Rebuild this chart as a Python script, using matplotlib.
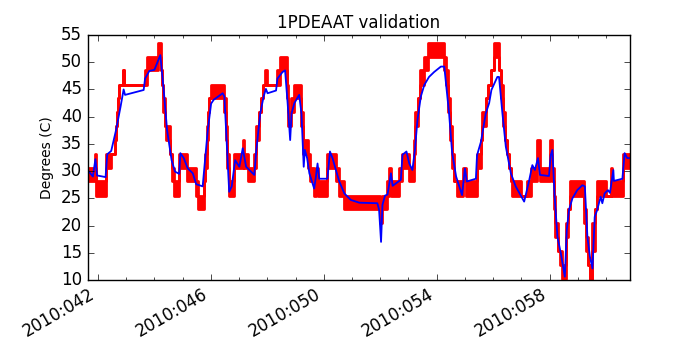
import matplotlib
matplotlib.use('Agg')
import matplotlib.pyplot as plt

# Telemetry (quantized): segment start day, lower level, upper level
tlm_day = [41.63, 41.89, 41.94, 42.29, 42.47, 42.60, 42.64, 42.67, 42.71, 42.76,
           42.88, 42.94, 43.65, 43.74, 44.14, 44.24, 44.28, 44.32, 44.37, 44.41,
           44.57, 44.61, 44.71, 44.87, 45.17, 45.48, 45.53, 45.77, 45.81, 45.86,
           45.91, 45.95, 46.01, 46.48, 46.53, 46.58, 46.64, 46.83, 47.13, 47.16,
           47.33, 47.54, 47.61, 47.70, 47.79, 47.86, 47.93, 47.99, 48.35, 48.46,
           48.71, 48.74, 48.84, 48.93, 49.21, 49.27, 49.43, 49.52, 49.64, 49.72,
           49.78, 50.13, 50.43, 50.55, 50.73, 52.00, 52.08, 52.24, 52.32, 52.40,
           52.67, 52.78, 53.03, 53.18, 53.24, 53.35, 53.41, 53.56, 53.70, 54.27,
           54.34, 54.39, 54.46, 54.53, 54.62, 54.72, 54.95, 55.03, 55.42, 55.57,
           55.61, 55.74, 55.82, 55.91, 56.03, 56.22, 56.28, 56.35, 56.43, 56.48,
           56.55, 56.62, 56.68, 56.98, 57.21, 57.36, 57.57, 57.66, 58.02, 58.10,
           58.14, 58.21, 58.30, 58.37, 58.45, 58.59, 58.66, 58.73, 59.22, 59.29,
           59.36, 59.42, 59.52, 59.61, 59.69, 59.99, 60.19, 60.22, 60.61, 60.85]
tlm_lo = [28.1, 30.6, 25.5, 30.6, 33.2, 35.7, 38.3, 40.8, 43.4, 45.9,
          48.5, 45.9, 45.9, 48.5, 51.0, 48.5, 45.9, 40.8, 38.3, 35.7,
          33.2, 28.1, 25.5, 30.6, 28.1, 25.5, 23.0, 28.1, 30.6, 35.7,
          40.8, 43.4, 43.4, 40.8, 35.7, 30.6, 25.5, 30.6, 33.2, 30.6,
          28.1, 30.6, 35.7, 40.8, 43.4, 45.9, 45.9, 45.9, 45.9, 48.5,
          43.4, 38.3, 40.8, 43.4, 38.3, 33.2, 30.6, 28.1, 25.5, 28.1,
          25.5, 30.6, 28.1, 25.5, 23.0, 20.4, 23.0, 25.5, 28.1, 25.5,
          28.1, 30.6, 28.1, 33.2, 38.3, 43.4, 45.9, 48.5, 51.0, 48.5,
          45.9, 40.8, 35.7, 30.6, 28.1, 25.5, 28.1, 25.5, 30.6, 35.7,
          38.3, 43.4, 45.9, 48.5, 51.0, 48.5, 43.4, 38.3, 35.7, 33.2,
          30.6, 28.1, 25.5, 25.5, 25.5, 28.1, 30.6, 28.1, 33.2, 28.1,
          23.0, 17.9, 15.3, 12.8, 10.2, 17.9, 23.0, 25.5, 20.4, 15.3,
          12.8, 10.2, 15.3, 23.0, 25.5, 25.5, 28.1, 25.5, 30.6, 30.6]
tlm_hi = [30.6, 33.2, 28.1, 33.2, 33.2, 35.7, 38.3, 40.8, 43.4, 45.9,
          48.5, 45.9, 48.5, 51.0, 53.6, 48.5, 45.9, 43.4, 38.3, 38.3,
          33.2, 30.6, 28.1, 33.2, 30.6, 28.1, 25.5, 28.1, 33.2, 38.3,
          40.8, 43.4, 45.9, 43.4, 38.3, 33.2, 28.1, 33.2, 35.7, 33.2,
          30.6, 33.2, 38.3, 40.8, 43.4, 45.9, 48.5, 45.9, 48.5, 51.0,
          45.9, 40.8, 43.4, 45.9, 40.8, 35.7, 33.2, 30.6, 28.1, 30.6,
          28.1, 33.2, 30.6, 28.1, 25.5, 23.0, 25.5, 28.1, 30.6, 28.1,
          30.6, 33.2, 30.6, 35.7, 40.8, 43.4, 48.5, 51.0, 53.6, 51.0,
          48.5, 43.4, 38.3, 33.2, 28.1, 28.1, 30.6, 28.1, 33.2, 35.7,
          40.8, 43.4, 45.9, 48.5, 53.6, 48.5, 45.9, 40.8, 35.7, 33.2,
          30.6, 28.1, 28.1, 25.5, 28.1, 30.6, 35.7, 30.6, 35.7, 30.6,
          25.5, 20.4, 15.3, 15.3, 12.8, 20.4, 23.0, 28.1, 23.0, 17.9,
          12.8, 10.2, 20.4, 23.0, 28.1, 25.5, 30.6, 28.1, 33.2, 33.2]

# Model prediction
model_day = [41.64, 41.82, 41.91, 41.97, 42.27, 42.33, 42.47, 42.64, 42.80, 42.91,
             42.96, 43.62, 43.67, 43.82, 44.00, 44.21, 44.33, 44.45, 44.61, 44.73,
             44.88, 44.92, 45.04, 45.18, 45.36, 45.48, 45.71, 45.89, 46.01, 46.10,
             46.18, 46.42, 46.48, 46.65, 46.74, 46.86, 47.01, 47.13, 47.25, 47.54,
             47.60, 47.75, 47.87, 47.95, 48.01, 48.31, 48.36, 48.54, 48.63, 48.72,
             48.81, 48.86, 48.96, 49.13, 49.21, 49.29, 49.33, 49.41, 49.49, 49.66,
             49.72, 49.78, 49.84, 50.13, 50.22, 50.31, 50.43, 50.55, 50.73, 50.96,
             51.26, 51.90, 51.96, 52.03, 52.08, 52.17, 52.26, 52.38, 52.44, 52.73,
             52.79, 52.93, 53.03, 53.14, 53.23, 53.32, 53.44, 53.56, 53.73, 53.91,
             54.15, 54.27, 54.44, 54.55, 54.69, 54.90, 55.00, 55.07, 55.39, 55.43,
             55.57, 55.74, 55.86, 55.94, 56.15, 56.21, 56.33, 56.45, 56.63, 56.80,
             57.10, 57.27, 57.39, 57.48, 57.59, 57.66, 57.98, 58.04, 58.10, 58.18,
             58.28, 58.40, 58.54, 58.61, 58.69, 58.81, 58.98, 59.16, 59.25, 59.34,
             59.43, 59.52, 59.60, 59.69, 59.81, 59.87, 59.95, 60.07, 60.14, 60.19,
             60.26, 60.28, 60.58, 60.66, 60.75, 60.81]
model_val = [30.2, 29.0, 32.2, 29.2, 28.9, 33.1, 33.7, 37.5, 41.8, 45.0,
             44.0, 44.9, 47.0, 48.4, 48.6, 51.3, 44.9, 37.5, 32.0, 29.9,
             29.5, 33.3, 32.4, 30.5, 29.6, 27.6, 27.2, 37.5, 42.4, 43.1,
             43.4, 44.3, 43.7, 26.2, 27.2, 32.0, 30.8, 34.2, 30.8, 29.3,
             33.3, 40.6, 43.7, 45.1, 44.3, 44.8, 47.0, 48.2, 48.5, 42.5,
             35.7, 40.6, 42.5, 44.0, 40.6, 30.8, 33.9, 32.4, 29.6, 26.8,
             28.9, 31.4, 28.6, 28.6, 33.6, 32.4, 30.2, 28.1, 25.9, 24.7,
             24.2, 24.1, 22.9, 17.0, 23.8, 25.5, 25.7, 29.6, 27.3, 28.4,
             33.0, 33.6, 31.4, 30.2, 33.9, 39.4, 43.7, 45.8, 47.3, 48.2,
             49.2, 49.2, 40.6, 33.3, 29.0, 25.6, 30.5, 28.1, 28.6, 32.9,
             35.4, 40.6, 42.5, 44.9, 47.3, 47.3, 40.6, 34.5, 29.6, 27.2,
             24.4, 28.1, 31.1, 30.2, 32.4, 29.3, 29.1, 32.9, 33.9, 25.3,
             17.9, 14.9, 10.6, 19.2, 22.9, 25.0, 26.5, 27.4, 27.2, 18.0,
             14.3, 12.1, 21.6, 22.9, 25.3, 24.1, 25.9, 26.5, 26.0, 27.7,
             30.2, 28.2, 28.6, 33.3, 32.4, 32.4]

tick_days = [42, 46, 50, 54, 58]
tick_labels = ['2010:042', '2010:046', '2010:050', '2010:054', '2010:058']

plt.style.use('classic')
fig = plt.figure(figsize=(7, 3.5), dpi=100, facecolor='white')
ax = fig.add_subplot(111)

ax.fill_between(tlm_day, tlm_lo, tlm_hi, step='post', color='r', lw=0)
ax.step(tlm_day, tlm_lo, where='post', color='r', lw=2)
ax.step(tlm_day, tlm_hi, where='post', color='r', lw=2)
ax.plot(model_day, model_val, color='b', lw=1.3)

ax.set_xlim(41.63, 60.85)
ax.set_ylim(10, 55)
ax.set_xticks(tick_days)
ax.set_xticklabels(tick_labels)
ax.set_xticks(range(42, 61), minor=True)
ax.set_title('1PDEAAT validation', fontsize=12)
ax.set_ylabel('Degrees (C)', fontsize=10)
fig.autofmt_xdate()

fig.savefig('out.png', dpi=100, facecolor='white')
